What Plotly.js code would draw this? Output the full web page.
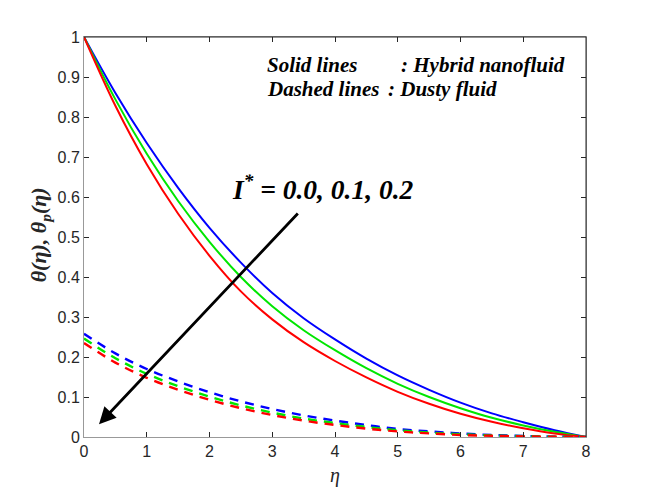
<!DOCTYPE html>
<html>
<head>
<meta charset="utf-8">
<script src="https://cdn.plot.ly/plotly-3.0.1.min.js"></script>
<style>
  html, body { margin: 0; padding: 0; background: #ffffff; }
  #chart { width: 648px; height: 491px; }
</style>
</head>
<body>
<div id="chart"></div>
<script>
// eta grid
var eta = [0, 0.5, 1, 1.5, 2, 2.5, 3, 3.5, 4, 4.5, 5, 5.5, 6, 6.5, 7, 7.5, 8];

// solid lines: hybrid nanofluid theta(eta), I* = 0.0 / 0.1 / 0.2
var thetaBlue  = [1.0, 0.860, 0.735, 0.623, 0.523, 0.436, 0.360, 0.297, 0.244, 0.196, 0.154, 0.118, 0.086, 0.059, 0.037, 0.017, 0.0];
var thetaGreen = [1.0, 0.844, 0.708, 0.590, 0.488, 0.400, 0.327, 0.267, 0.217, 0.172, 0.133, 0.100, 0.072, 0.048, 0.029, 0.013, 0.0];
var thetaRed   = [1.0, 0.828, 0.682, 0.558, 0.453, 0.364, 0.294, 0.237, 0.190, 0.149, 0.113, 0.083, 0.058, 0.038, 0.022, 0.009, 0.0];

// dashed lines: dusty fluid theta_p(eta)
var thetaPBlue  = [0.258, 0.209, 0.170, 0.139, 0.112, 0.089, 0.070, 0.054, 0.041, 0.030, 0.020, 0.014, 0.009, 0.005, 0.0025, 0.001, 0.0];
var thetaPGreen = [0.246, 0.197, 0.158, 0.127, 0.101, 0.079, 0.061, 0.046, 0.035, 0.025, 0.017, 0.011, 0.007, 0.004, 0.002, 0.0008, 0.0];
var thetaPRed   = [0.235, 0.186, 0.148, 0.118, 0.093, 0.072, 0.055, 0.041, 0.030, 0.021, 0.014, 0.009, 0.005, 0.003, 0.0015, 0.0005, 0.0];

var xTicks = [0, 1, 2, 3, 4, 5, 6, 7, 8];
var yTicks = [0, 0.1, 0.2, 0.3, 0.4, 0.5, 0.6, 0.7, 0.8, 0.9, 1];
var yTickText = ['0', '0.1', '0.2', '0.3', '0.4', '0.5', '0.6', '0.7', '0.8', '0.9', '1'];

var blue = '#0000ff';
var green = '#00e600';
var red = '#ff0000';

function curve(y, color, dashed) {
  return {
    x: eta,
    y: y,
    mode: 'lines',
    line: { color: color, width: dashed ? 2.4 : 2, shape: 'spline', smoothing: 1, dash: dashed ? '9px,7px' : 'solid' },
    hoverinfo: 'skip',
    showlegend: false
  };
}

var data = [
  curve(thetaBlue, blue, false),
  curve(thetaGreen, green, false),
  curve(thetaRed, red, false),
  curve(thetaPBlue, blue, true),
  curve(thetaPGreen, green, true),
  curve(thetaPRed, red, true)
];

var serif = 'Liberation Serif, Times New Roman, serif';
var sans = 'Liberation Sans, Arial, Helvetica, sans-serif';

var layout = {
  width: 648,
  height: 491,
  margin: { l: 84, r: 62, t: 37, b: 54 },
  paper_bgcolor: '#ffffff',
  plot_bgcolor: '#ffffff',
  showlegend: false,
  xaxis: {
    range: [0, 8],
    tickvals: xTicks,
    ticks: 'inside',
    ticklen: 5,
    tickcolor: '#262626',
    linecolor: '#999999',
    showline: true,
    mirror: 'ticks',
    showgrid: false,
    zeroline: false,
    tickfont: { family: sans, size: 16, color: '#262626' },
    title: { text: '<i>η</i>', font: { family: serif, size: 20, color: '#262626' }, standoff: 8 }
  },
  yaxis: {
    range: [0, 1],
    tickvals: yTicks,
    ticktext: yTickText,
    ticks: 'inside',
    ticklen: 5,
    tickcolor: '#262626',
    linecolor: '#999999',
    showline: true,
    mirror: 'ticks',
    showgrid: false,
    zeroline: false,
    tickfont: { family: sans, size: 16, color: '#262626' }
  },
  shapes: [
    { type: 'line', xref: 'paper', yref: 'paper', x0: 0, x1: 1, y0: 1, y1: 1, line: { color: '#262626', width: 1 } },
    { type: 'line', xref: 'paper', yref: 'paper', x0: 1, x1: 1, y0: 0, y1: 1, line: { color: '#262626', width: 1 } }
  ],
  annotations: [
    // y axis title
    { xref: 'paper', yref: 'paper', x: -0.087, y: 0.505, xanchor: 'center', yanchor: 'middle', showarrow: false,
      textangle: -90, text: '<b><i>θ(η), θ<sub>p</sub>(η)</i></b>', font: { family: serif, size: 22, color: '#262626' } },
    { xref: 'x', yref: 'y', x: 2.89, y: 0.929, xanchor: 'left', yanchor: 'middle', showarrow: false,
      text: '<b><i>Solid lines</i></b>', font: { family: serif, size: 21, color: '#000000' } },
    { xref: 'x', yref: 'y', x: 5.02, y: 0.929, xanchor: 'left', yanchor: 'middle', showarrow: false,
      text: '<b><i>: Hybrid nanofluid</i></b>', font: { family: serif, size: 21, color: '#000000' } },
    { xref: 'x', yref: 'y', x: 2.89, y: 0.871, xanchor: 'left', yanchor: 'middle', showarrow: false,
      text: '<b><i>Dashed lines</i></b>', font: { family: serif, size: 21, color: '#000000' } },
    { xref: 'x', yref: 'y', x: 4.81, y: 0.871, xanchor: 'left', yanchor: 'middle', showarrow: false,
      text: '<b><i>: Dusty fluid</i></b>', font: { family: serif, size: 21, color: '#000000' } },
    { xref: 'x', yref: 'y', x: 2.32, y: 0.625, xanchor: 'left', yanchor: 'middle', showarrow: false,
      text: '<b><i>I<sup>*</sup> = 0.0, 0.1, 0.2</i></b>', font: { family: serif, size: 27.5, color: '#000000' } },
    { xref: 'x', yref: 'y', axref: 'x', ayref: 'y', x: 0.239, y: 0.032, ax: 3.43, ay: 0.5625,
      text: '', showarrow: true, arrowhead: 2, arrowsize: 1.2, arrowwidth: 2.8, arrowcolor: '#000000' }
  ]
};

Plotly.newPlot('chart', data, layout, { staticPlot: true, displayModeBar: false });
</script>
</body>
</html>
